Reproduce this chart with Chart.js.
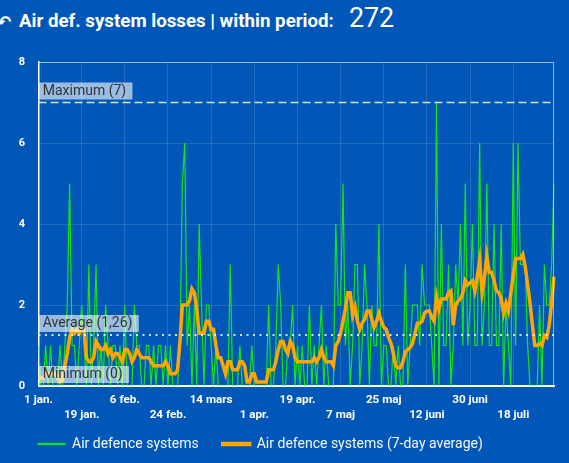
<!DOCTYPE html>
<html lang="en">
<head>
    <meta charset="UTF-8">
    <title>Air def. system losses</title>
    <script src="https://cdn.jsdelivr.net/npm/chart.js"></script>
    <style>
        html, body {
            margin: 0;
            padding: 0;
            width: 569px;
            height: 463px;
            overflow: hidden;
            background: #0057b7;
            font-family: Roboto, "Noto Sans", sans-serif;
        }
        .title-icon {
            position: absolute;
            left: -3px;
            top: 14px;
            color: #fff;
            font-family: "DejaVu Sans", sans-serif;
            font-weight: bold;
            font-size: 17px;
            line-height: 1;
        }
        .title-text {
            position: absolute;
            left: 19px;
            top: 11.5px;
            color: #fff;
            font-weight: bold;
            font-size: 18.7px;
            line-height: 1;
            white-space: nowrap;
        }
        .title-total {
            position: absolute;
            left: 349px;
            top: 5px;
            color: #fff;
            font-size: 26.8px;
            line-height: 1;
        }
        #lossChart {
            position: absolute;
            left: 0;
            top: 40px;
        }
    </style>
</head>
<body>
    <span class="title-icon">&#8630;</span>
    <span class="title-text">Air def. system losses | within period:</span>
    <span class="title-total" id="periodTotal"></span>
    <canvas id="lossChart" width="569" height="421"></canvas>

    <script>
        // daily losses, 1 jan - 4 aug
        const airDefenceLosses = [
            1,0,0,1,0,1,0,0,0,1,
            0,1,2,5,1,1,0,1,2,1,
            0,3,0,1,3,0,1,0,2,1,
            0,1,1,0,1,0,2,0,0,0,
            2,1,1,0,0,1,1,0,1,0,
            1,1,0,1,0,1,0,0,0,1,
            5,6,1,2,0,2,0,4,2,0,
            2,2,1,0,1,0,0,0,0,0,
            3,0,0,0,1,0,0,0,0,1,
            0,0,0,0,0,0,2,0,0,1,
            3,2,0,0,1,1,2,0,1,0,
            1,0,0,2,0,1,0,1,2,0,
            1,0,0,0,4,2,2,5,1,2,
            0,1,3,3,0,1,3,2,0,2,
            1,1,4,0,1,1,0,0,1,0,
            1,0,0,3,0,1,2,2,2,1,
            3,2,2,2,1,0,7,0,4,1,
            1,3,0,1,3,2,4,1,5,1,
            2,4,1,1,6,1,2,5,1,1,
            4,1,1,4,0,2,1,0,6,1,
            6,3,3,3,1,0,0,0,0,2,
            0,3,2,2,3,5
        ];

        // 7-day average
        const sevenDayAverage = [
            0.2,0.2,0.2,0.3,0.3,0.3,0.3,0.3,0.2,0.1,
            0.15,0.5,0.8,1.2,1.4,1.3,1.4,1.3,1.4,1.4,
            0.7,0.6,0.6,0.7,1.1,1.0,0.9,0.9,1.0,0.8,
            0.9,0.7,0.8,0.8,0.7,0.6,0.9,0.9,0.8,0.6,
            0.7,0.9,0.8,0.7,0.7,0.7,0.7,0.6,0.5,0.5,
            0.5,0.5,0.5,0.6,0.5,0.3,0.3,0.3,0.4,1.1,
            2.0,2.0,2.0,2.1,2.4,2.3,1.9,1.3,1.3,1.3,
            1.6,1.6,1.4,1.4,1.0,0.7,0.7,0.5,0.3,0.6,
            0.6,0.4,0.4,0.4,0.6,0.6,0.5,0.1,0.1,0.3,
            0.3,0.1,0.1,0.1,0.1,0.1,0.4,0.4,0.4,0.6,
            0.9,1.1,1.1,0.9,0.8,1.1,1.0,0.7,0.6,0.6,
            0.6,0.6,0.6,0.6,0.6,0.7,0.6,0.7,0.9,0.7,
            0.6,0.6,0.6,0.5,1.0,1.1,1.3,1.6,1.9,2.3,
            2.3,1.75,1.95,1.6,1.4,1.55,1.65,1.85,1.85,1.65,
            1.45,1.6,1.8,1.6,1.45,1.4,1.2,1.05,0.8,0.5,
            0.45,0.45,0.6,0.85,0.9,0.95,1.05,1.3,1.55,1.55,
            1.6,1.8,1.85,1.85,1.7,1.6,2.2,1.9,2.15,2.15,
            2.15,2.3,2.35,1.5,2.0,2.1,2.15,2.3,2.6,2.5,
            2.55,2.6,2.35,2.7,3.1,2.3,2.7,3.2,2.8,2.8,
            2.6,2.35,2.3,2.15,1.8,2.05,1.85,2.3,2.75,3.15,
            3.15,3.15,3.25,2.95,2.5,2.05,1.5,1.0,1.0,1.05,
            1.0,1.25,1.2,1.5,2.05,2.7
        ];

        const tickLabels = ['1 jan.', '19 jan.', '6 feb.', '24 feb.', '14 mars', '1 apr.',
                            '19 apr.', '7 maj', '25 maj', '12 juni', '30 juni', '18 juli'];
        const tickEvery = 18;

        const periodTotal = 272;
        const maximumValue = 7;
        const averageValue = 1.26;
        const minimumValue = 0;

        // one category per day
        const days = [];
        for (let i = 0; i < airDefenceLosses.length; i++) {
            const d = new Date(Date.UTC(2023, 0, 1 + i));
            days.push(d.toISOString().slice(0, 10));
        }

        document.getElementById('periodTotal').textContent = periodTotal;

        // reference lines with labels (max / average / min)
        const refLines = {
            id: 'refLines',
            afterLayout(chart) {
                // let the second row of date labels run below the axis box
                chart.scales.x.bottom = chart.height;
            },
            afterDatasetsDraw(chart) {
                const {ctx, chartArea} = chart;
                const y = chart.scales.y;
                const lines = [
                    {value: maximumValue, text: 'Maximum (' + maximumValue + ')', dash: [8, 4], width: 1.5},
                    {value: averageValue, text: 'Average (' + String(averageValue).replace('.', ',') + ')', dash: [2, 4.5], width: 2},
                    {value: minimumValue, text: 'Minimum (' + minimumValue + ')', dash: [], width: 1}
                ];
                ctx.save();
                lines.forEach(l => {
                    const py = y.getPixelForValue(l.value);
                    ctx.beginPath();
                    ctx.setLineDash(l.dash);
                    ctx.lineWidth = l.width;
                    ctx.strokeStyle = 'rgba(235,242,255,0.9)';
                    ctx.moveTo(chartArea.left, py);
                    ctx.lineTo(chartArea.right, py);
                    ctx.stroke();
                    ctx.setLineDash([]);

                    ctx.font = '14px Roboto';
                    const w = ctx.measureText(l.text).width + 10;
                    ctx.fillStyle = 'rgba(255,255,255,0.6)';
                    ctx.fillRect(chartArea.left + 0.5, py - 20, w, 17);
                    ctx.fillStyle = '#333333';
                    ctx.textBaseline = 'middle';
                    ctx.fillText(l.text, chartArea.left + 4.2, py - 11.3);
                });
                // frame round the plot
                ctx.strokeStyle = 'rgba(255,255,255,0.55)';
                ctx.lineWidth = 1;
                ctx.strokeRect(chartArea.left, chartArea.top + 0.5, chartArea.right - chartArea.left - 0.5, chartArea.bottom - chartArea.top);
                ctx.restore();
            }
        };

        const ctx = document.getElementById('lossChart').getContext('2d');
        new Chart(ctx, {
            type: 'line',
            data: {
                labels: days,
                datasets: [
                    {
                        label: 'Air defence systems',
                        data: airDefenceLosses,
                        borderColor: '#14e614',
                        backgroundColor: '#12b84a',
                        borderWidth: 1.2,
                        pointRadius: 0,
                        tension: 0,
                        order: 1
                    },
                    {
                        label: 'Air defence systems (7-day average)',
                        data: sevenDayAverage,
                        borderColor: '#ffa500',
                        backgroundColor: '#ffa500',
                        borderWidth: 3.5,
                        pointRadius: 0,
                        tension: 0,
                        order: 0
                    }
                ]
            },
            options: {
                responsive: false,
                animation: false,
                layout: {
                    padding: {left: 14, right: 15, top: 22, bottom: 0}
                },
                plugins: {
                    tooltip: {enabled: false},
                    legend: {
                        position: 'bottom',
                        align: 'start',
                        labels: {
                            color: '#f4f7fc',
                            font: {family: 'Roboto', size: 14},
                            boxWidth: 27,
                            boxHeight: 1,
                            padding: 24,
                            sort: (a, b) => a.datasetIndex - b.datasetIndex
                        }
                    }
                },
                scales: {
                    x: {
                        grid: {color: 'rgba(255,255,255,0.13)', drawTicks: false},
                        border: {color: '#ffffff', width: 2},
                        afterFit: scale => { scale.height = 27; },
                        ticks: {
                            autoSkip: false,
                            maxRotation: 0,
                            padding: 6,
                            color: '#ffffff',
                            font: {family: 'Roboto', size: 11.7, weight: 'bold', lineHeight: 1.34},
                            callback: function(value, index) {
                                if (index % tickEvery !== 0) return null;
                                const n = index / tickEvery;
                                if (n >= tickLabels.length) return null;
                                return n % 2 === 0 ? tickLabels[n] : ['', tickLabels[n]];
                            }
                        }
                    },
                    y: {
                        min: 0,
                        max: 8,
                        grid: {color: 'rgba(255,255,255,0.13)', drawTicks: false},
                        border: {color: '#ffffff', width: 1.5},
                        afterFit: scale => { scale.width = 24.5; },
                        ticks: {
                            stepSize: 1,
                            padding: 13.5,
                            color: '#ffffff',
                            font: {family: 'Roboto', size: 11, weight: 'bold'},
                            callback: value => (value % 2 === 0 ? value : null)
                        }
                    }
                }
            },
            plugins: [refLines]
        });
    </script>
</body>
</html>
